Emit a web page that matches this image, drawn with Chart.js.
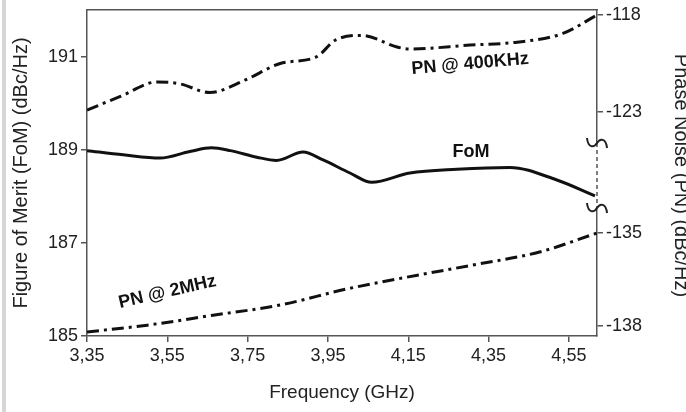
<!DOCTYPE html>
<html>
<head>
<meta charset="utf-8">
<script src="https://cdn.jsdelivr.net/npm/chart.js@4.4.0/dist/chart.umd.min.js"></script>
<style>
  html, body { margin: 0; padding: 0; background: #fff; }
  #wrap { position: relative; width: 686px; height: 412px; }
  #edge { position: absolute; left: 2px; top: 0; width: 4px; height: 412px; background: #d6d6d6; }
</style>
</head>
<body>
<div id="wrap">
  <canvas id="chart" width="686" height="412"></canvas>
  <div id="edge"></div>
</div>
<script>
// values
var fomFreq = [3.35, 3.44, 3.532, 3.606, 3.66, 3.707, 3.773, 3.822, 3.888, 3.938, 4.005, 4.059, 4.154, 4.271, 4.403, 4.52, 4.615];
var fomValues = [188.98, 188.89, 188.82, 188.96, 189.04, 188.98, 188.84, 188.77, 188.95, 188.78, 188.5, 188.3, 188.5, 188.58, 188.62, 188.35, 188.01];

var pn400Freq = [3.35, 3.433, 3.525, 3.581, 3.656, 3.744, 3.831, 3.922, 3.968, 4.035, 4.122, 4.154, 4.304, 4.421, 4.535, 4.62];
var pn400Values = [-122.9, -122.2, -121.45, -121.55, -122.0, -121.35, -120.5, -120.15, -119.3, -119.05, -119.65, -119.75, -119.55, -119.4, -118.95, -118.0];

var pn2Freq = [3.35, 3.5, 3.664, 3.831, 3.998, 4.147, 4.311, 4.477, 4.62];
var pn2Values = [-138.19, -137.97, -137.65, -137.32, -136.8, -136.42, -136.03, -135.61, -135.0];

var freqTicks = [3.35, 3.55, 3.75, 3.95, 4.15, 4.35, 4.55];
var fomTicks = [185, 187, 189, 191];
var pnUpperTicks = [-118, -123];
var pnLowerTicks = [-135, -138];

var curveLabels = [
  { text: 'PN @ 400KHz', x: 4.304, y: -120.52, axis: 'pnUpper', angle: -5 },
  { text: 'FoM', x: 4.306, y: 188.96, axis: 'y', angle: 0 },
  { text: 'PN @ 2MHz', x: 3.55, y: -136.9, axis: 'pnLower', angle: -13 }
];

function toPoints (xs, ys) {
  var pts = [];
  for (let i = 0; i < xs.length; i++) {
    pts.push({ x: xs[i], y: ys[i] });
  }
  return pts;
}

function fixTicks (list) {
  return function (scale) {
    scale.ticks = list.map(function (v) { return { value: v }; });
  };
}

function fixSize (w, h) {
  return function (scale) {
    if (w !== null) scale.width = w;
    if (h !== null) scale.height = h;
    scale.paddingTop = 0;
    scale.paddingBottom = 0;
    scale.paddingLeft = 0;
    scale.paddingRight = 0;
  };
}

var frameColor = '#555';
var textColor = '#222';

Chart.defaults.font.family = "'Liberation Sans', Arial, sans-serif";
Chart.defaults.color = textColor;

var axisBorder = { display: true, color: frameColor, width: 1.5 };
var axisGrid = { display: true, drawOnChartArea: false, drawTicks: true, tickLength: 6, color: frameColor, lineWidth: 1.5 };

var extras = {
  id: 'extras',
  afterDatasetsDraw: function (chart) {
    const ctx = chart.ctx;
    const area = chart.chartArea;
    const brk = chart.scales.pnBreak;
    const x = area.right;
    ctx.save();
    // dashed part of the broken right axis
    ctx.strokeStyle = frameColor;
    ctx.lineWidth = 1.5;
    ctx.setLineDash([4, 3]);
    ctx.beginPath();
    ctx.moveTo(x, brk.top);
    ctx.lineTo(x, brk.bottom);
    ctx.stroke();
    ctx.setLineDash([]);
    // break marks
    ctx.strokeStyle = '#222';
    ctx.lineWidth = 2;
    [brk.top, brk.bottom].forEach(function (y) {
      ctx.beginPath();
      ctx.moveTo(x - 10, y - 5);
      ctx.bezierCurveTo(x - 9, y + 5, x - 3, y + 5, x, y);
      ctx.bezierCurveTo(x + 3, y - 5, x + 9, y - 5, x + 10, y + 5);
      ctx.stroke();
    });
    // curve names
    ctx.fillStyle = '#111';
    ctx.font = "bold 18px 'Liberation Sans', Arial, sans-serif";
    ctx.textAlign = 'center';
    ctx.textBaseline = 'middle';
    curveLabels.forEach(function (lbl) {
      const px = chart.scales.x.getPixelForValue(lbl.x);
      const py = chart.scales[lbl.axis].getPixelForValue(lbl.y);
      ctx.save();
      ctx.translate(px, py);
      ctx.rotate(lbl.angle * Math.PI / 180);
      ctx.fillText(lbl.text, 0, 0);
      ctx.restore();
    });
    ctx.restore();
  }
};

var lineStyle = {
  borderColor: '#111',
  borderWidth: 3,
  pointRadius: 0,
  fill: false,
  cubicInterpolationMode: 'monotone'
};

new Chart(document.getElementById('chart'), {
  type: 'line',
  data: {
    datasets: [
      Object.assign({ label: 'FoM', data: toPoints(fomFreq, fomValues), yAxisID: 'y' }, lineStyle),
      Object.assign({ label: 'PN @ 400KHz', data: toPoints(pn400Freq, pn400Values), yAxisID: 'pnUpper', borderDash: [12, 5, 3, 5] }, lineStyle),
      Object.assign({ label: 'PN @ 2MHz', data: toPoints(pn2Freq, pn2Values), yAxisID: 'pnLower', borderDash: [12, 5, 3, 5] }, lineStyle)
    ]
  },
  options: {
    responsive: false,
    animation: false,
    layout: { padding: 0 },
    plugins: { legend: { display: false }, tooltip: { enabled: false } },
    scales: {
      x: {
        type: 'linear', position: 'bottom', min: 3.35, max: 4.62,
        afterBuildTicks: fixTicks(freqTicks),
        afterFit: fixSize(null, 76),
        ticks: { font: { size: 18 }, padding: 3, maxRotation: 0, autoSkip: false,
          callback: function (v) { return v.toFixed(2).replace('.', ','); } },
        grid: axisGrid,
        border: axisBorder,
        title: { display: true, text: 'Frequency (GHz)', font: { size: 19 }, padding: { top: 0, bottom: 8 } }
      },
      xTop: {
        type: 'linear', position: 'top', min: 3.35, max: 4.62,
        afterFit: fixSize(null, 10),
        ticks: { display: false },
        grid: { display: false },
        border: axisBorder
      },
      y: {
        type: 'linear', position: 'left', min: 185, max: 192,
        afterBuildTicks: fixTicks(fomTicks),
        afterFit: fixSize(87, null),
        ticks: { font: { size: 18 }, padding: 3 },
        grid: axisGrid,
        border: axisBorder,
        title: { display: true, text: 'Figure of Merit (FoM) (dBc/Hz)', font: { size: 20 }, padding: { top: 9, bottom: 0 } }
      },
      pnUpper: {
        type: 'linear', position: 'right', stack: 'pn', stackWeight: 133,
        min: -124.60, max: -117.74,
        afterBuildTicks: fixTicks(pnUpperTicks),
        afterFit: fixSize(89, null),
        ticks: { font: { size: 18 }, padding: 3 },
        grid: axisGrid,
        border: axisBorder
      },
      pnBreak: {
        type: 'linear', position: 'right', stack: 'pn', stackWeight: 65,
        min: 0, max: 1,
        afterFit: fixSize(89, null),
        ticks: { display: false },
        grid: { display: false },
        border: { display: false },
        title: { display: true, text: 'Phase Noise (PN) (dBc/Hz)', font: { size: 20 }, padding: { top: -7, bottom: 0 } }
      },
      pnLower: {
        type: 'linear', position: 'right', stack: 'pn', stackWeight: 128,
        min: -138.32, max: -134.19,
        afterBuildTicks: fixTicks(pnLowerTicks),
        afterFit: fixSize(89, null),
        ticks: { font: { size: 18 }, padding: 3 },
        grid: axisGrid,
        border: axisBorder
      }
    }
  },
  plugins: [extras]
});
</script>
</body>
</html>
